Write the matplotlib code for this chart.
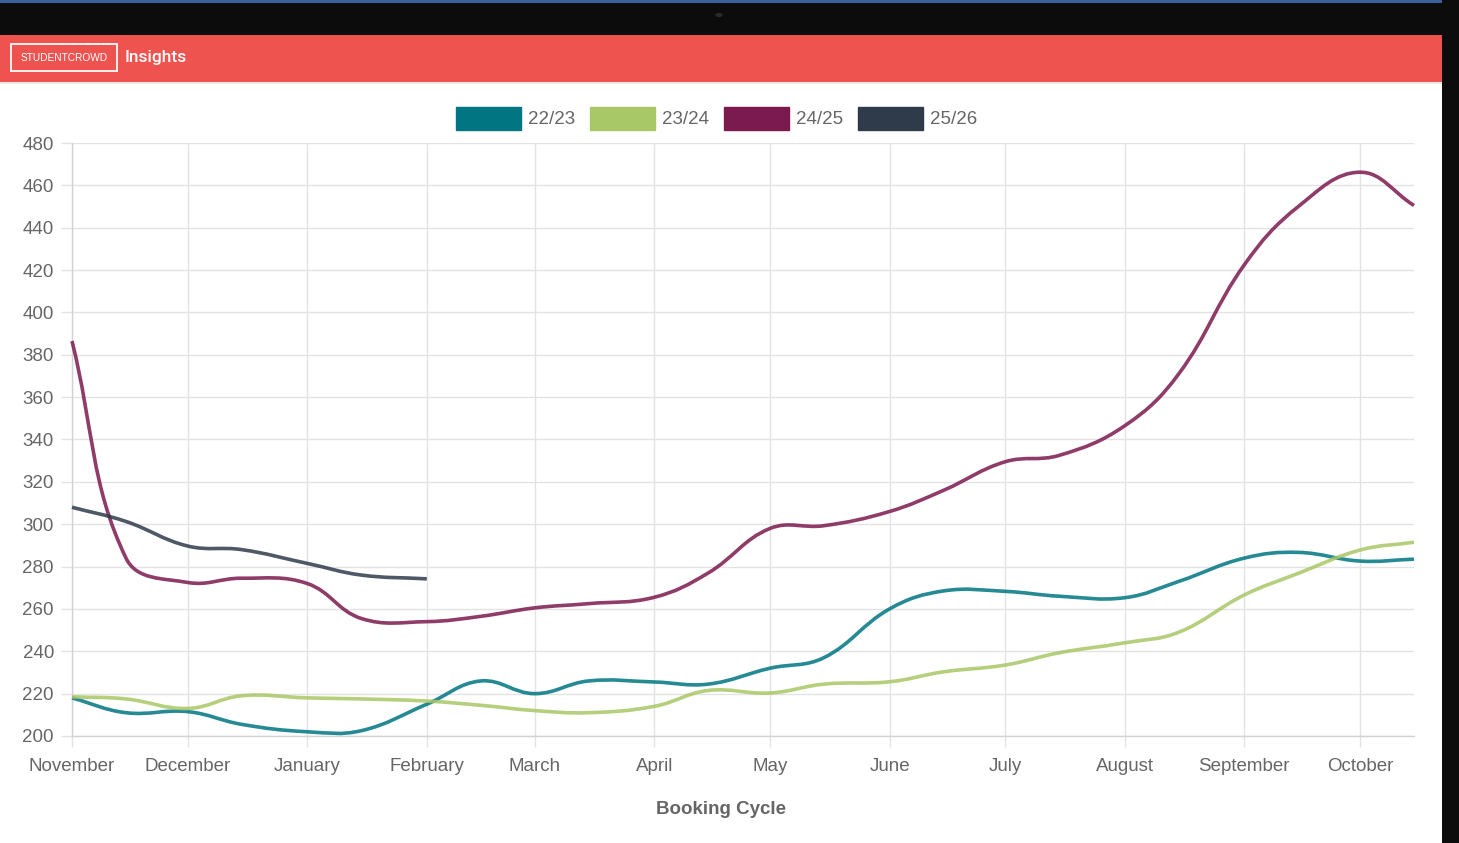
import numpy as np
import matplotlib
matplotlib.use("Agg")
import matplotlib.pyplot as plt
import matplotlib.dates as mdates
from matplotlib.path import Path
from matplotlib.patches import PathPatch, Rectangle, Circle

# ---------------- data ----------------
dates = ["2022-11-01", "2022-11-15", "2022-12-01", "2022-12-15", "2023-01-01", "2023-01-15",
         "2023-02-01", "2023-02-15", "2023-03-01", "2023-03-15", "2023-04-01", "2023-04-15",
         "2023-05-01", "2023-05-15", "2023-06-01", "2023-06-15", "2023-07-01", "2023-07-15",
         "2023-08-01", "2023-08-15", "2023-09-01", "2023-09-15", "2023-10-01", "2023-10-15"]

series_names = ["22/23", "23/24", "24/25", "25/26"]
s_2223 = [218, 211, 211.5, 205.5, 202, 202.5, 215, 226, 220, 226, 225.5, 224.5,
          232, 237, 260, 268.5, 268.3, 266, 265.3, 273, 284, 286.7, 282.6, 283.5]
s_2324 = [218.5, 217.5, 213, 219, 218, 217.5, 216.5, 214.5, 212, 211, 214, 221.5,
          220.3, 224.5, 225.6, 230.3, 233.5, 239.3, 244, 249, 266.6, 276.8, 287.8, 291.5]
s_2425 = [386.5, 284, 272.5, 274.5, 272, 255.5, 254, 256.5, 260.5, 262.5, 265.5, 277,
          298, 299.3, 306, 316, 329.5, 332.5, 346.5, 371, 422.5, 450, 466.2, 450.5]
s_2526 = [308, 301.3, 289.7, 288, 281.5, 276, 274.2]

y_ticks = list(range(200, 481, 20))
x_title = "Booking Cycle"
colors = ["#007682", "#a8c766", "#7b1a4f", "#2f3b4b"]

# ---------------- figure ----------------
W, H = 1459, 843
fig = plt.figure(figsize=(W / 100, H / 100), dpi=100)
fig.patch.set_facecolor("white")

def fx(px):
    return px / W

def fy(py):
    return 1 - py / H

def frect(x0, y0, x1, y1, **kw):
    r = Rectangle((fx(x0), fy(y1)), fx(x1) - fx(x0), fy(y0) - fy(y1),
                  transform=fig.transFigure, **kw)
    fig.add_artist(r)
    return r

# screen frame
frect(0, 0, W, 35, facecolor="#0c0c0c", edgecolor="none", zorder=0)
frect(0, 0, W, 3, facecolor="#3c5f9e", edgecolor="none", zorder=1)
frect(1442, 0, W, H, facecolor="#0c0c0c", edgecolor="none", zorder=5)
fig.add_artist(Circle((fx(719), fy(15)), 0.0025, transform=fig.transFigure,
                      facecolor="#2a2a2a", edgecolor="none", zorder=2))
# header
frect(0, 35, 1442, 82, facecolor="#ef5350", edgecolor="none", zorder=1)
frect(0, 82, 1442, 84, facecolor="#e9e9e9", edgecolor="none", zorder=1)
frect(11, 44, 117, 71, facecolor="none", edgecolor="white", linewidth=1.3, zorder=3)
for dx in [62, 74, 88, 98, 103, 108]:
    fig.add_artist(Circle((fx(dx), fy(44)), 0.0009, transform=fig.transFigure,
                          facecolor="white", edgecolor="none", zorder=4))
fig.text(fx(64), fy(58), "STUDENTCROWD", color="white", fontsize=7.3,
         family="Liberation Sans", ha="center", va="center", zorder=4)
fig.text(fx(125), fy(57.5), "Insights", color="white", fontsize=12.5,
         family="Roboto", weight="medium", ha="left", va="center", zorder=4)

# ---------------- axes ----------------
x_left, x_right, y_top, y_bot = 72, 1414, 143, 736
ax = fig.add_axes([fx(x_left), fy(y_bot), fx(x_right) - fx(x_left), fy(y_top) - fy(y_bot)])
xd = mdates.date2num(np.array(dates, dtype="datetime64[D]"))
ax.set_xlim(xd[0], xd[-1])
ax.set_ylim(200, 480)
ax.set_yticks(y_ticks)
ax.xaxis.set_major_locator(mdates.MonthLocator())
ax.xaxis.set_major_formatter(mdates.DateFormatter("%B"))
grid_c = "#e3e3e3"
ax.grid(True, color=grid_c, linewidth=1.0)
ax.set_axisbelow(True)
for s in ["top", "right"]:
    ax.spines[s].set_visible(False)
for s in ["left", "bottom"]:
    ax.spines[s].set_color("#d2d2d2")
    ax.spines[s].set_linewidth(1.0)
ax.tick_params(axis="both", length=8, width=1.0, color=grid_c, labelcolor="#666666",
               labelsize=13.5)
ax.tick_params(axis="y", pad=5)
ax.tick_params(axis="x", pad=7.5)
for lab in ax.get_xticklabels() + ax.get_yticklabels():
    lab.set_family("Liberation Sans")


def bezier_line(xs, ys, color, tension=0.4):
    pts = ax.transData.transform(np.column_stack([xs, ys]))
    n = len(pts)
    prev_cp = np.zeros_like(pts)
    next_cp = np.zeros_like(pts)
    for i in range(n):
        p0 = pts[max(i - 1, 0)]
        p1 = pts[i]
        p2 = pts[min(i + 1, n - 1)]
        d01 = np.hypot(*(p1 - p0))
        d12 = np.hypot(*(p2 - p1))
        tot = d01 + d12
        s01 = d01 / tot if tot else 0
        s12 = d12 / tot if tot else 0
        prev_cp[i] = p1 - tension * s01 * (p2 - p0)
        next_cp[i] = p1 + tension * s12 * (p2 - p0)
    verts = [pts[0]]
    codes = [Path.MOVETO]
    for i in range(n - 1):
        verts += [next_cp[i], prev_cp[i + 1], pts[i + 1]]
        codes += [Path.CURVE4] * 3
    verts = ax.transData.inverted().transform(np.array(verts))
    patch = PathPatch(Path(verts, codes), facecolor="none", edgecolor=color,
                      linewidth=2.6, alpha=0.85, capstyle="butt", joinstyle="round",
                      zorder=3, clip_on=False)
    ax.add_patch(patch)


all_series = [s_2223, s_2324, s_2425, s_2526]
for vals, col in zip(all_series, colors):
    bezier_line(xd[:len(vals)], vals, col)

# x title
fig.text(fx(721), fy(810), x_title, color="#666666", fontsize=13.5, weight="bold",
         family="Liberation Sans", ha="center", va="center")

# legend (manual, Chart.js style)
box_x = [456, 590, 724, 858]
for bx, name, col in zip(box_x, series_names, colors):
    frect(bx, 107, bx + 65, 130, facecolor=col, edgecolor=col, linewidth=1.0,
          alpha=1.0, zorder=3)
    fig.text(fx(bx + 72), fy(119), name, color="#666666", fontsize=13.5,
             family="Liberation Sans", ha="left", va="center")

fig.savefig("out.png", dpi=100, facecolor=fig.get_facecolor())
